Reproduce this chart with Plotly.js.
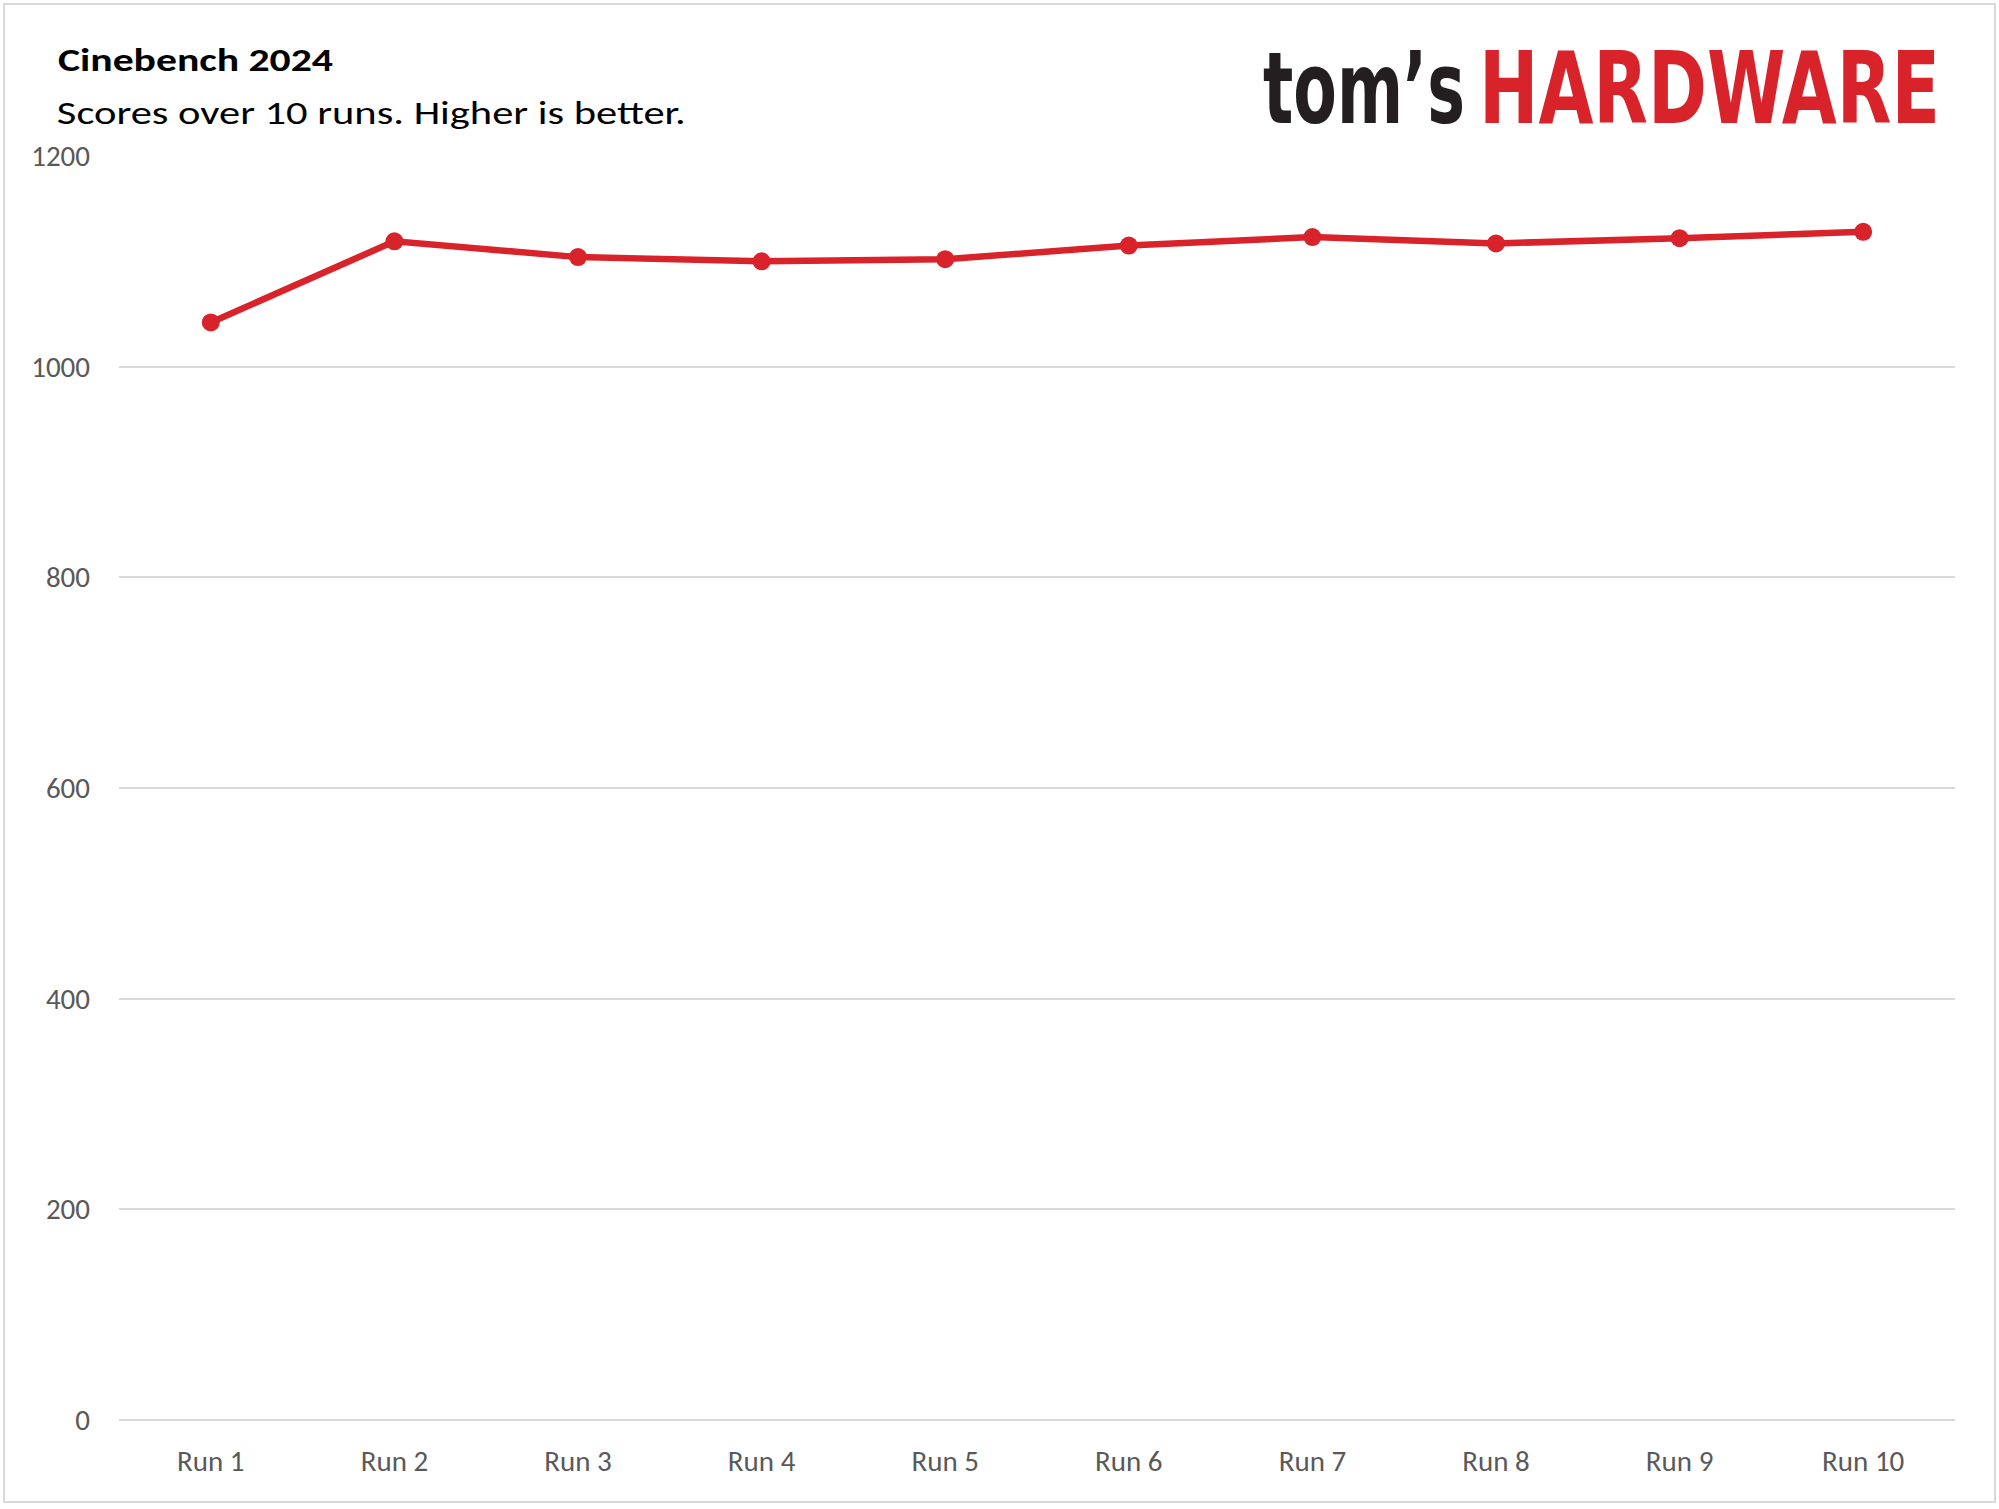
<!DOCTYPE html>
<html>
<head>
<meta charset="utf-8">
<script src="https://cdn.plot.ly/plotly-3.0.1.min.js"></script>
<style>
  html, body { margin: 0; padding: 0; background: #fff; }
  #chart { width: 1999px; height: 1509px; }
</style>
</head>
<body>
<div id="chart"></div>
<script>
// ── Dados ─────────────────────────────────────────────────
const runs   = ['Run 1', 'Run 2', 'Run 3', 'Run 4', 'Run 5',
                'Run 6', 'Run 7', 'Run 8', 'Run 9', 'Run 10'];
const scores = [1042, 1119, 1104, 1100, 1102, 1115, 1123, 1117, 1122, 1128];
const yTicks = [0, 200, 400, 600, 800, 1000, 1200];

const chartTitle    = 'Cinebench 2024';
const chartSubtitle = 'Scores over 10 runs. Higher is better.';

// ── Estilo ────────────────────────────────────────────────
const RED   = '#d9232b';
const GRID  = '#d9d9d9';
const TICK  = '#595959';
const FONT  = 'Carlito, Lato, sans-serif';
const LOGO  = '"Liberation Sans Narrow", "DejaVu Sans Condensed", "DejaVu Sans", sans-serif';

// A fonte original é mais estreita/esticada: escolhe o tamanho que dá a
// largura certa e depois estica na vertical até a altura desejada.
const ctx = document.createElement('canvas').getContext('2d');
function fitText(text, family, weight, size, width) {
  ctx.font = `${weight} ${size}px ${family}`;
  const fit = size * width / ctx.measureText(text).width;
  return { size: fit, sy: size / fit };
}

const textSpecs = [
  { text: chartTitle,    family: FONT, weight: 'bold',   size: 32, width: 275, color: '#000',    x: 0.0414, y: 1.0767 },
  { text: chartSubtitle, family: FONT, weight: 'normal', size: 32, width: 629, color: '#000',    x: 0.1375, y: 1.034  },
  // logo tom's HARDWARE
  { text: 'tom’s',       family: LOGO, weight: 'bold',   size: 99, width: 202, color: '#231f20', x: 0.6781, y: 1.053  },
  { text: 'HARDWARE',    family: LOGO, weight: 'bold',   size: 99, width: 461, color: RED,       x: 0.8663, y: 1.053  },
].map((s) => ({ ...s, ...fitText(s.text, s.family, s.weight, s.size, s.width) }));

const trace = {
  x: runs,
  y: scores,
  type: 'scatter',
  mode: 'lines+markers',
  line:   { color: RED, width: 6.5 },
  marker: { color: RED, size: 18 },
  hoverinfo: 'skip',
};

const layout = {
  width: 1999,
  height: 1509,
  margin: { l: 119, r: 44, t: 156, b: 89 },
  paper_bgcolor: '#fff',
  plot_bgcolor:  '#fff',
  showlegend: false,
  hovermode: false,
  font: { family: FONT, color: TICK, size: 26 },
  xaxis: {
    type: 'category',
    range: [-0.5, runs.length - 0.5],
    showgrid: false,
    zeroline: false,
    showline: false,
    ticks: '',
    ticklabelstandoff: 21,
    tickfont: { family: FONT, size: 29, color: TICK },
  },
  yaxis: {
    range: [0, 1200],
    tickvals: yTicks,
    showgrid: true,
    gridcolor: GRID,
    gridwidth: 2,
    zeroline: true,
    zerolinecolor: GRID,
    zerolinewidth: 2,
    showline: false,
    ticks: '',
    ticklabelstandoff: 28,
    tickfont: { family: FONT, size: 29, color: TICK },
  },
  // moldura cinza em volta da figura
  shapes: [{
    type: 'rect', xref: 'paper', yref: 'paper',
    x0: -0.0626, x1: 1.0218, y0: -0.0649, y1: 1.1203,
    line: { color: GRID, width: 2 },
    fillcolor: 'rgba(0,0,0,0)',
  }],
  annotations: textSpecs.map((s) => ({
    text: s.text,
    xref: 'paper', yref: 'paper', x: s.x, y: s.y,
    xanchor: 'center', yanchor: 'middle', showarrow: false,
    font: { family: s.family, size: s.size, color: s.color, weight: s.weight },
  })),
};

Plotly.newPlot('chart', [trace], layout, { displayModeBar: false, staticPlot: true })
  .then((gd) => {
    gd.querySelectorAll('.annotation-text').forEach((el, i) => {
      const spec = textSpecs[i];
      if (!spec) return;
      // estica em torno do centro da caixa da anotação
      const bg = el.parentNode.querySelector('rect.bg');
      const cy = bg
        ? Number(bg.getAttribute('y') || 0) + Number(bg.getAttribute('height') || 0) / 2
        : Number(el.getAttribute('y') || 0);
      el.setAttribute('transform', `translate(0 ${cy * (1 - spec.sy)}) scale(1 ${spec.sy})`);
    });
  });
</script>
</body>
</html>
